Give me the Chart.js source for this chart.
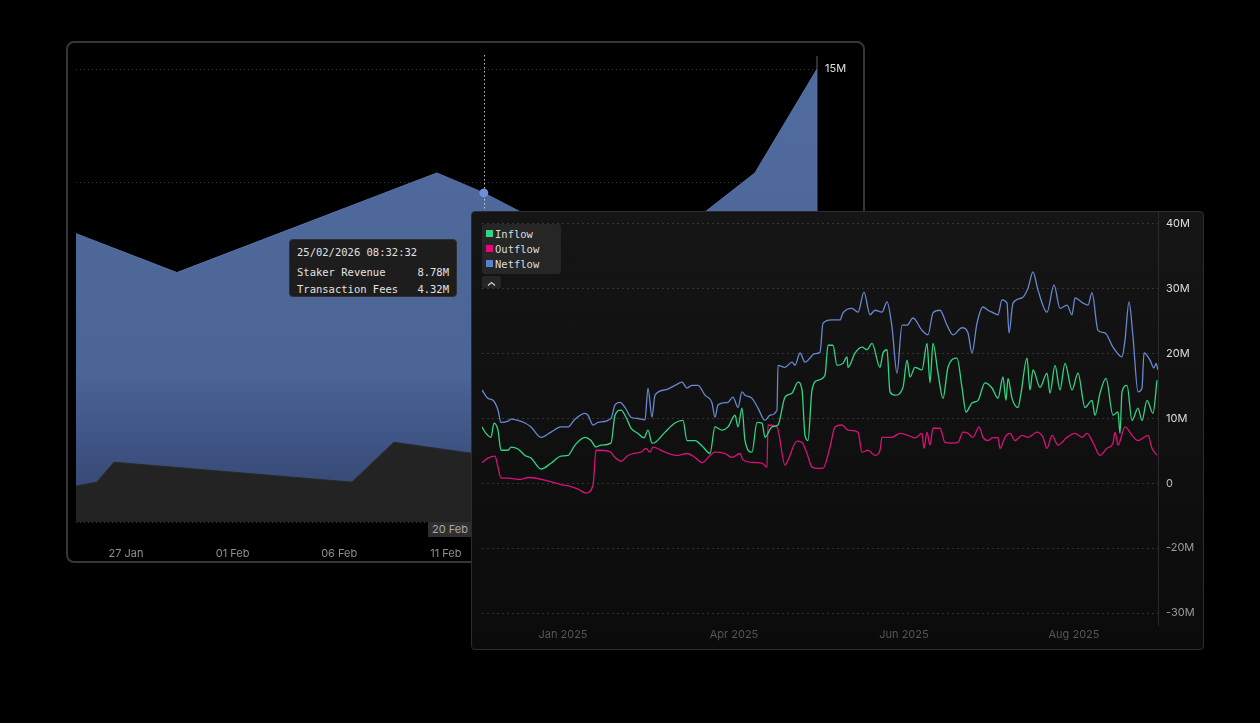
<!DOCTYPE html>
<html>
<head>
<meta charset="utf-8">
<script src="https://cdn.jsdelivr.net/npm/chart.js@4.4.1/dist/chart.umd.min.js"></script>
<style>
  html, body { margin: 0; padding: 0; background: #000; width: 1260px; height: 723px; overflow: hidden; }
  canvas { position: absolute; display: block; }
  #backChart { left: 66px; top: 41px; }
  #backFrame { position: absolute; left: 66px; top: 41px; width: 799px; height: 522px; box-sizing: border-box;
    border: 2px solid #363636; border-radius: 8px; pointer-events: none; }
  #tip { position: absolute; left: 289px; top: 239px; width: 168px; height: 58px; box-sizing: border-box;
    background: #1d1d1d; border: 1px solid #2f2f2f; border-radius: 4px; color: #e2e2e2;
    font: 10.5px "DejaVu Sans Mono", monospace; padding: 5px 7px 0 7px; }
  #tip .row { display: flex; justify-content: space-between; height: 17px; line-height: 17px; }
  #tip .head { height: 19px; line-height: 14px; }
  #crossLabel { position: absolute; left: 428px; top: 522px; height: 15px; line-height: 15px; padding: 0 4px;
    background: #2f2f2f; color: #a8a8a8; font: 11px Inter, sans-serif; white-space: nowrap; }
  #frontPanel { position: absolute; left: 471px; top: 211px; width: 733px; height: 439px; box-sizing: border-box;
    border: 1px solid #2c2c2c; border-radius: 4px; background: linear-gradient(#151515, #0b0b0b); }
  #frontChart { left: 472px; top: 212px; }
  #legend { position: absolute; left: 482px; top: 224px; width: 79px; height: 50px; box-sizing: border-box;
    background: #262626; border-radius: 3px; padding: 2px 0 0 4px; font: 10.5px "DejaVu Sans Mono", monospace; color: #dcdcdc; }
  #legend .item { height: 15px; line-height: 14px; display: flex; align-items: center; }
  #legend .sw { width: 7px; height: 7px; margin-right: 2px; }
  #collapse { position: absolute; left: 482px; top: 276px; width: 19px; height: 12px; background: #262626; border-radius: 2px; }
</style>
</head>
<body>
<canvas id="backChart" width="799" height="522"></canvas>
<div id="backFrame"></div>
<div id="tip">
  <div class="head">25/02/2026 08:32:32</div>
  <div class="row"><span>Staker Revenue</span><span>8.78M</span></div>
  <div class="row"><span>Transaction Fees</span><span>4.32M</span></div>
</div>
<div id="crossLabel">20 Feb '26</div>

<div id="frontPanel"></div>
<canvas id="frontChart" width="730" height="436"></canvas>
<div id="legend"></div>
<div id="collapse"><svg width="19" height="12"><polyline points="6,7.5 9.5,4.5 13,7.5" fill="none" stroke="#cfcfcf" stroke-width="1.2"/></svg></div>

<script>
// ---- back chart: staker revenue (day of year, millions) ----
const totalDays = [24.66, 29.39, 41.58, 43.78, 50.7, 56.49, 59.4];
const totalVals = [9.55, 8.26, 11.56, 10.9, 8.36, 11.56, 15.0];
const feeDays = [24.66, 25.64, 26.44, 37.6, 39.56, 43.17, 47.5, 52.0, 56.5, 59.4];
const feeVals = [1.19, 1.32, 1.98, 1.32, 2.64, 2.28, 2.0, 2.3, 2.5, 2.7];
const backTickDays = [27, 32, 37, 42, 47, 52, 57];
const backTickLabels = ["27 Jan", "01 Feb", "06 Feb", "11 Feb", "16 Feb", "21 Feb", "26 Feb"];
const backYTicks = [0, 3.75, 7.5, 11.25, 15];
const hoverDay = 43.78;
const hoverTotal = 10.9;

// ---- front chart: flows (sample index, millions) ----
const netIdx = [0,3,5.5,8,9.5,13,14.5,18,21.5,24.5,29.5,34.5,39.5,43,46.5,51.5,53,55.5,58,64.5,66.5,69,71.5,74.5,78,81.5,83,85,86.5,91.5,96.5,100,102.5,105,108,111.5,115,116.5,118,123,125.5,128,130,131.5,135,138,141.5,144,147.5,148,151.5,155,156.5,159,161.5,166.5,169,170.5,175,179,180.5,185,188,191,194,196.5,200,202.5,205,207.5,210,212.5,215.5,220,223,225.5,229,232.5,235.5,240,243,245,247.5,250.5,253,255,258,260,262.5,263.5,265.5,270,273,275.5,278,282.5,286,289,292.5,295,296.5,300.5,303,305,308,311.5,315.5,320,321.5,323.5,325.5,328,330,331,334,336,337,338];
const netVals = [14.4,13.1,12.8,11.3,9.4,9.6,9.9,9.7,9.3,8.7,7.1,7.9,8.7,8.7,9.9,10.8,10.5,9.0,9.4,10.0,12.1,12.5,11.7,10.2,10.0,9.8,14.7,10.2,13.6,14.4,15.1,15.6,14.7,15.1,15.1,13.6,12.4,10.2,12.1,12.5,13.3,11.7,14.1,13.6,13.1,11.6,9.7,10.5,11.3,18.2,17.9,18.7,18.2,20.1,18.7,20.0,20.2,24.7,25.2,25.2,26.3,27.0,26.4,29.5,26.0,26.7,26.4,28.0,24.1,17.0,24.4,24.4,25.5,23.6,22.9,26.3,26.7,24.4,22.9,24.0,23.2,20.1,24.7,27.2,26.7,26.4,26.0,28.3,27.8,23.2,27.8,28.6,30.1,32.6,29.8,26.4,30.6,27.0,27.5,26.0,28.6,27.8,27.5,29.4,23.6,23.2,21.0,19.5,22.1,28.0,22.6,14.1,14.7,20.1,19.0,17.8,18.5,17.5];

const inIdx = [0,2,4.5,6,8,9.5,13,14.5,18,21.5,24.5,29.5,34.5,39.5,43,46.5,51.5,54.5,57,59.5,64.5,66.5,69.5,72,74.5,78,81,83,85,86.5,91.5,96.5,100.5,102.5,106.5,110.5,114,116.5,120,123,126.5,128,130,131.5,135,137.5,140,141.5,145,148,151.5,155,158,160,161.5,163,165,168,171.5,173,175.5,177.5,180.5,182.5,183,186.5,190,192.5,195,199,200.5,202.5,204,206.5,210.5,212.5,214,216.5,220,222.5,224,225.5,228,230.5,233,237.5,240,242,245,248,251.5,255,258,260.5,262,263,265,268,269.5,272.5,274,275.5,279,282.5,284,286.5,289,291.5,295,298,301.5,305,306.5,309,312,315.5,318,319,320,322.5,325,328,330,332.5,335.5,337.5];
const inVals = [8.7,7.7,7.1,9.3,8.2,5.1,5.1,5.6,5.3,4.3,3.9,2.2,3.1,4.2,4.3,5.9,7.1,6.6,5.6,5.9,6.2,10.5,11.3,10.2,8.5,7.7,7.0,8.2,6.2,6.3,7.9,9.3,9.7,6.6,6.6,5.6,4.6,8.7,8.2,8.7,10.5,8.7,11.6,6.6,4.8,9.4,9.3,7.1,8.7,9.0,13.3,13.9,15.6,14.4,7.4,6.6,14.4,15.9,16.7,21.3,21.3,18.2,18.5,19.5,17.9,20.1,21.0,20.6,21.6,17.9,20.1,20.6,14.1,13.6,14.8,19.0,16.4,17.9,17.5,21.6,15.5,21.6,17.0,13.1,17.9,19.3,14.8,11.0,12.4,12.8,15.5,14.7,13.1,16.4,12.8,16.2,13.1,11.7,13.9,19.3,14.4,17.5,14.8,17.0,13.9,18.2,14.4,18.5,14.4,17.0,11.7,12.8,10.5,13.9,16.2,10.5,11.0,7.7,14.1,15.1,9.7,11.6,9.7,12.8,10.8,15.9];

const outIdx = [0,3,6.5,8,9.5,13,19.5,23,31.5,39.5,44.5,48,52,55.5,57,64,66.5,69.5,73,75.5,79.5,82,84,85.5,91.5,98,102.5,106.5,110,114,116.5,121.5,125,129,130.5,136.5,140,142.5,143,147.5,151.5,153,157.5,160,162.5,165,168,170.5,174,176.5,180,183,188,190,193,196.5,199,200,205,209,213,216.5,220,221,222.5,224,225.5,229,231.5,235,238,240.5,243,245.5,248.5,250.5,253,255,258,259,261.5,264,266.5,270,273,277.5,280.5,282.5,285,288,292.5,296.5,300,302.5,305.5,309,312.5,315.5,316.5,318,321.5,325,328,333,335,337.5];
const outVals = [3.2,3.9,4.2,2.5,0.8,0.8,0.6,0.9,0.5,-0.2,-0.5,-0.9,-1.5,-0.3,5.1,4.9,4.0,3.4,4.3,4.6,4.8,5.4,4.8,5.6,4.8,4.3,4.6,4.0,3.2,4.3,4.8,4.6,4.0,4.6,3.6,3.2,3.1,2.5,9.0,8.7,2.8,3.6,6.5,6.3,4.6,2.5,2.3,2.3,5.6,8.7,9.0,8.2,7.9,4.8,5.1,4.3,5.1,7.1,7.1,7.7,7.4,7.0,7.7,5.4,7.9,5.9,8.5,8.5,6.3,6.2,6.3,7.9,7.7,7.1,8.7,7.1,6.6,7.0,7.1,5.4,7.1,7.7,6.6,7.4,7.1,7.9,7.1,5.4,7.4,5.9,7.1,7.7,7.1,7.7,6.3,4.3,5.4,6.2,7.9,5.9,8.7,7.4,6.6,7.4,5.4,4.3];

const frontXTicks = [40.5, 126, 211, 296];
const frontXLabels = ["Jan 2025", "Apr 2025", "Jun 2025", "Aug 2025"];
const frontYTicks = [40, 30, 20, 10, 0, -10, -20];
const frontYLabels = ["40M", "30M", "20M", "10M", "0", "-20M", "-30M"];

const M = 1e6;
const pts = (xs, ys) => xs.map((x, i) => ({ x: x, y: ys[i] * M }));
const tickFont = { family: "Inter, 'Liberation Sans', sans-serif", size: 11 };

// keep the axis label overhang from shrinking the plot area
const noOverhang = (width, height) => (s) => {
  s.paddingTop = 0; s.paddingBottom = 0; s.paddingLeft = 0; s.paddingRight = 0;
  if (width) s.width = width;
  if (height) s.height = height;
};

// blue area gets darker toward the bottom
const revenueFill = (c) => {
  const area = c.chart.chartArea;
  if (!area) return "#4f6a9e";
  const g = c.chart.ctx.createLinearGradient(0, area.top, 0, area.bottom);
  g.addColorStop(0, "rgba(85,113,167,0.95)");
  g.addColorStop(0.68, "rgba(79,106,158,0.95)");
  g.addColorStop(0.85, "rgba(64,86,136,0.95)");
  g.addColorStop(1, "rgba(52,70,112,0.95)");
  return g;
};

const crosshair = {
  id: "crosshair",
  afterDatasetsDraw(chart) {
    const { ctx, chartArea, scales } = chart;
    const px = scales.x.getPixelForValue(hoverDay);
    const py = scales.y.getPixelForValue(hoverTotal * M);
    ctx.save();
    ctx.strokeStyle = "rgba(225,225,225,0.85)";
    ctx.lineWidth = 1;
    ctx.setLineDash([1.5, 2.5]);
    ctx.beginPath();
    ctx.moveTo(Math.round(px) + 0.5, chartArea.top - 2);
    ctx.lineTo(Math.round(px) + 0.5, chartArea.bottom);
    ctx.stroke();
    ctx.setLineDash([]);
    ctx.fillStyle = "#6f8fd6";
    ctx.beginPath();
    ctx.arc(px, py, 4.5, 0, Math.PI * 2);
    ctx.fill();
    ctx.restore();
  }
};

const backChart = new Chart(document.getElementById("backChart"), {
  type: "line",
  data: {
    datasets: [
      { label: "Transaction Fees", data: pts(feeDays, feeVals), fill: "origin", backgroundColor: "#232323",
        borderColor: "#292929", borderWidth: 1, pointRadius: 0, tension: 0 },
      { label: "Staker Revenue", data: pts(totalDays, totalVals), fill: "origin", backgroundColor: revenueFill,
        borderColor: "#5673aa", borderWidth: 1, pointRadius: 0, tension: 0 }
    ]
  },
  options: {
    responsive: false,
    animation: false,
    events: [],
    layout: { padding: { left: 10, top: 16, right: 0, bottom: 0 } },
    plugins: { legend: { display: false }, tooltip: { enabled: false } },
    scales: {
      x: {
        type: "linear", min: totalDays[0], max: totalDays[totalDays.length - 1],
        grid: { display: false, drawTicks: false }, border: { display: false },
        afterBuildTicks: (s) => { s.ticks = backTickDays.map(v => ({ value: v })); },
        afterFit: noOverhang(0, 41),
        ticks: { autoSkip: false, maxRotation: 0, padding: 25, color: "#8f8f8f", font: tickFont,
          callback: (v) => backTickLabels[backTickDays.indexOf(v)] }
      },
      y: {
        position: "right", min: 0, max: 15.4 * M,
        grid: { color: "rgba(110,110,110,0.55)", lineWidth: 1, drawTicks: false },
        border: { display: true, color: "#303030", width: 2, dash: [1, 3] },
        afterBuildTicks: (s) => { s.ticks = backYTicks.map(v => ({ value: v * M })); },
        afterFit: noOverhang(48, 0),
        ticks: { padding: 8, color: "#e0e0e0", font: tickFont,
          callback: (v) => (v === 15 * M ? "15M" : "") }
      }
    }
  },
  plugins: [crosshair]
});

const frontChart = new Chart(document.getElementById("frontChart"), {
  type: "line",
  data: {
    datasets: [
      { label: "Inflow", data: pts(inIdx, inVals), borderColor: "#33d583", backgroundColor: "#33d583" },
      { label: "Outflow", data: pts(outIdx, outVals), borderColor: "#d8127a", backgroundColor: "#e8067f" },
      { label: "Netflow", data: pts(netIdx, netVals), borderColor: "#6888cf", backgroundColor: "#5b80d2" }
    ].map(d => Object.assign(d, { borderWidth: 1.3, pointRadius: 0, fill: false, cubicInterpolationMode: "monotone" }))
  },
  options: {
    responsive: false,
    animation: false,
    events: [],
    layout: { padding: { left: 10, top: 0, right: 0, bottom: 0 } },
    plugins: { legend: { display: false }, tooltip: { enabled: false } },
    scales: {
      x: {
        type: "linear", min: 0, max: 338,
        grid: { display: false, drawTicks: false }, border: { display: false },
        afterBuildTicks: (s) => { s.ticks = frontXTicks.map(v => ({ value: v })); },
        afterFit: noOverhang(0, 23),
        ticks: { autoSkip: false, maxRotation: 0, padding: 3, color: "#555555", font: tickFont,
          callback: (v) => frontXLabels[frontXTicks.indexOf(v)] }
      },
      y: {
        position: "right", min: -21.85 * M, max: 41.85 * M,
        grid: { color: "rgba(90,90,90,0.5)", lineWidth: 1, drawTicks: false },
        border: { display: true, color: "#2a2a2a", width: 1, dash: [2, 3] },
        afterBuildTicks: (s) => { s.ticks = frontYTicks.map(v => ({ value: v * M })); },
        afterFit: noOverhang(44, 0),
        ticks: { padding: 8, font: tickFont,
          color: (c) => (c.tick.value >= 10 * M ? "#dedede" : c.tick.value === 0 ? "#bdbdbd" : "#9a9a9a"),
          callback: (v) => frontYLabels[frontYTicks.indexOf(Math.round(v / M))] }
      }
    }
  }
});

// legend built from the dataset labels
const legendEl = document.getElementById("legend");
frontChart.data.datasets.forEach(ds => {
  const item = document.createElement("div");
  item.className = "item";
  item.innerHTML = '<span class="sw" style="background:' + ds.backgroundColor + '"></span>' + ds.label;
  legendEl.appendChild(item);
});
</script>
</body>
</html>
